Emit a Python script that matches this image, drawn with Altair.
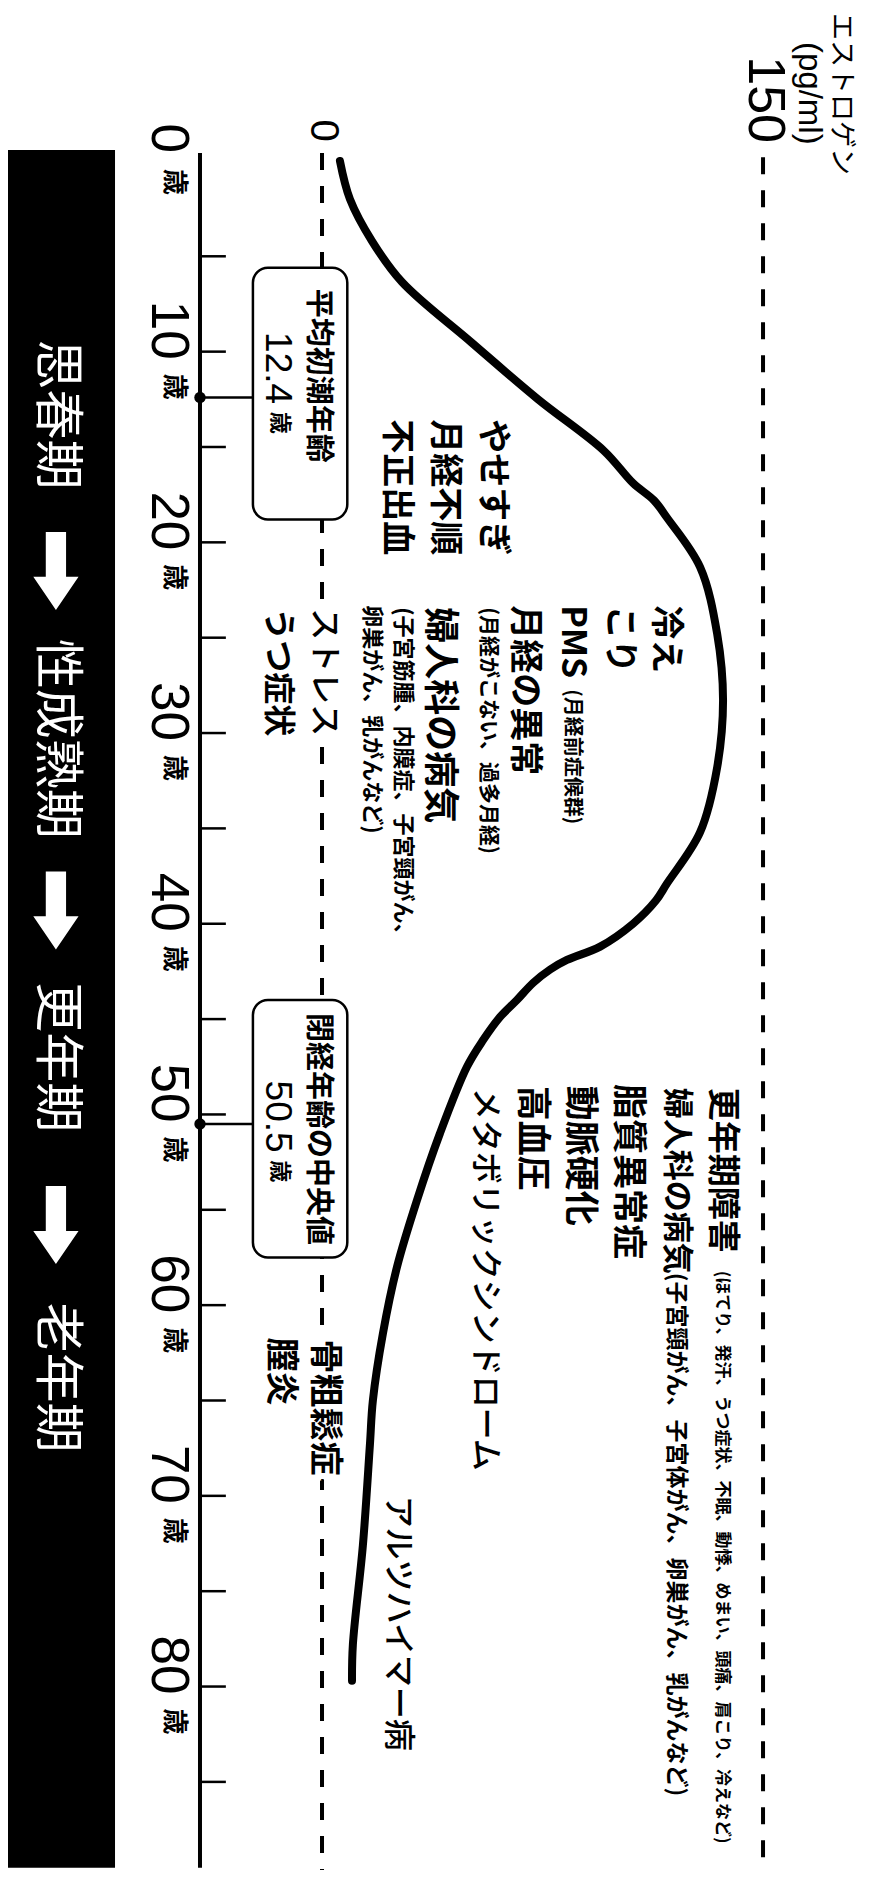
import altair as alt
import pandas as pd

# ---------------- data ----------------
# estrogen curve (age in years, estrogen pg/ml)
curve_age = [0.0, 2.0, 4.2, 6.35, 9.5, 12.5, 15.2, 16.9, 17.8, 18.7, 21.3, 24.8, 28.3,
             31.8, 35.2, 37.9, 38.8, 40.0, 41.2, 41.9, 42.4, 43.1, 44.0, 44.9, 46.1,
             47.5, 51.0, 54.5, 58.0, 61.5, 65.0, 67.3, 72.6, 77.8, 79.7]
curve_e = [6.1, 9.5, 17.0, 27.2, 50.7, 73.5, 95.9, 105.8, 112.9, 117.3, 128.6, 134.4, 136.4,
           134.4, 128.6, 117.3, 113.5, 105.8, 94.6, 83.3, 77.6, 71.8, 66.3, 60.5, 54.8,
           49.3, 40.1, 32.3, 25.5, 20.7, 17.3, 16.3, 13.9, 10.5, 10.2]

tick_ages = list(range(5, 90, 5))
label_ages = list(range(0, 90, 10))

milestone_ages = [12.4, 50.5]
milestone_titles = ["平均初潮年齢", "閉経年齢の中央値"]
milestone_values = ["12.4", "50.5"]

periods = ["思春期", "性成熟期", "更年期", "老年期"]
period_centers = [13.3, 30.3, 47.0, 63.8]
arrow_ages = [21.5, 39.3, 55.8]

# annotation texts: (text, estrogen level, starting age, font size)
bold_texts = [
    ("やせすぎ", 57.8, 13.55, 34), ("月経不順", 41.5, 13.55, 34), ("不正出血", 25.2, 13.55, 34),
    ("冷え", 116.7, 23.3, 34), ("こり", 101.0, 23.3, 34), ("PMS", 85.0, 23.3, 34),
    ("(月経前症候群)", 85.0, 27.7, 20), ("月経の異常", 68.7, 23.3, 34),
    ("(月経がこない、過多月経)", 56.5, 23.4, 21), ("婦人科の病気", 39.8, 23.4, 36),
    ("(子宮筋腫、内膜症、子宮頸がん、", 27.6, 23.4, 22), ("卵巣がん、乳がんなど)", 17.0, 23.3, 22),
    ("うつ症状", -15.0, 23.45, 32),
    ("更年期障害", 136.1, 48.6, 33),
    ("(ほてり、発汗、うつ症状、不眠、動悸、めまい、頭痛、肩こり、冷えなど)", 136.1, 58.2, 17),
    ("婦人科の病気", 120.4, 48.6, 31),
    ("(子宮頸がん、子宮体がん、卵巣がん、乳がんなど)", 120.4, 58.3, 23),
    ("脂質異常症", 104.1, 48.4, 35), ("動脈硬化", 87.8, 48.5, 35), ("高血圧", 71.4, 48.5, 35),
    ("膣炎", -14.3, 61.7, 34),
]
halo_bold_texts = [("骨粗鬆症", 0.7, 61.8, 34)]
normal_texts = [("メタボリックシンドローム", 55.4, 48.6, 32), ("アルツハイマー病", 25.9, 70.0, 32)]
halo_normal_texts = [("ストレス", 0.7, 23.45, 32)]

# ---------------- scales ----------------
XD = [-106.8, 184.0]
YD = [-8.02, 89.62]
JP = "Noto Sans CJK JP"
LAT = "Liberation Sans, Arial, sans-serif"
AX_E = -41.5   # estrogen coordinate of the age axis
BOX_E = [-23.5, 8.6]


def X(f):
    return alt.X(f, type="quantitative", scale=alt.Scale(domain=XD, nice=False, zero=False), axis=None)


def Y(f):
    return alt.Y(f, type="quantitative", scale=alt.Scale(domain=YD, reverse=True, nice=False, zero=False), axis=None)


layers = []

# black period band
band = pd.DataFrame({"e0": [XD[0]], "e1": [-70.4], "a0": [-0.58], "a1": [89.5]})
layers.append(alt.Chart(band).mark_rect(color="black").encode(
    x=X("e0"), x2="e1", y=Y("a0"), y2="a1"))

pdf = pd.DataFrame({"t": periods, "age": period_centers, "e": [-90.5] * 4})
layers.append(alt.Chart(pdf).mark_text(angle=90, align="center", baseline="middle", color="white",
                                        font=JP, fontSize=50, fontWeight=400).encode(
    x=X("e"), y=Y("age"), text="t"))

adf = pd.DataFrame({"age": arrow_ages, "e": [-90.5] * 3})
arrow_path = "M-0.26,-1L0.26,-1L0.26,0.15L0.58,0.15L0,1L-0.58,0.15L-0.26,0.15Z"
layers.append(alt.Chart(adf).mark_point(shape=arrow_path, size=6084, filled=True, color="white",
                                         opacity=1, strokeWidth=0).encode(x=X("e"), y=Y("age")))

# dashed estrogen reference lines
ddf = pd.DataFrame({"e": [0, 150], "a0": [-0.42, -0.2], "a1": [89.62, 89.62]})
layers.append(alt.Chart(ddf).mark_rule(color="black", strokeWidth=4, strokeDash=[17, 16]).encode(
    x=X("e"), y=Y("a0"), y2="a1"))

# age axis
axdf = pd.DataFrame({"e": [AX_E], "a0": [-0.42], "a1": [89.5]})
layers.append(alt.Chart(axdf).mark_rule(color="black", strokeWidth=4).encode(
    x=X("e"), y=Y("a0"), y2="a1"))
tdf = pd.DataFrame({"age": tick_ages, "e0": [AX_E] * len(tick_ages), "e1": [-32.7] * len(tick_ages)})
layers.append(alt.Chart(tdf).mark_rule(color="black", strokeWidth=2.5).encode(
    x=X("e0"), x2="e1", y=Y("age")))

ldf = pd.DataFrame({"age": label_ages, "t": [str(a) for a in label_ages],
                    "e": [-52.4] * len(label_ages), "eu": [-50.3] * len(label_ages),
                    "u": ["歳"] * len(label_ages)})
ld0 = ldf[ldf["age"] == 0]
ld2 = ldf[ldf["age"] > 0]
layers.append(alt.Chart(ld2).mark_text(angle=90, align="right", baseline="middle", dx=8,
                                        font=LAT, fontSize=53, color="black").encode(
    x=X("e"), y=Y("age"), text="t"))
layers.append(alt.Chart(ld0).mark_text(angle=90, align="right", baseline="middle", dx=-8,
                                        font=LAT, fontSize=53, color="black").encode(
    x=X("e"), y=Y("age"), text="t"))
layers.append(alt.Chart(ld2).mark_text(angle=90, align="left", baseline="middle", dx=22,
                                        font=JP, fontSize=26, fontWeight="bold", color="black").encode(
    x=X("eu"), y=Y("age"), text="u"))
layers.append(alt.Chart(ld0).mark_text(angle=90, align="left", baseline="middle", dx=8,
                                        font=JP, fontSize=26, fontWeight="bold", color="black").encode(
    x=X("eu"), y=Y("age"), text="u"))

# milestone connectors, dots, boxes
mdf = pd.DataFrame({"age": milestone_ages, "e0": [AX_E] * 2, "e1": [BOX_E[0]] * 2,
                    "b0": [5.6, 44.0], "b1": [18.8, 57.5],
                    "title": milestone_titles, "val": milestone_values,
                    "tage": [11.27, 50.76], "vage": [12.75, 52.0], "uage": [13.15, 52.4]})
layers.append(alt.Chart(mdf).mark_rule(color="black", strokeWidth=2.5).encode(
    x=X("e0"), x2="e1", y=Y("age")))
layers.append(alt.Chart(mdf).mark_point(filled=True, color="black", size=130, opacity=1).encode(
    x=X("e0"), y=Y("age")))
bdf = mdf.assign(bx0=BOX_E[0], bx1=BOX_E[1])
layers.append(alt.Chart(bdf).mark_rect(fill="white", stroke="black", strokeWidth=2.5, cornerRadius=15).encode(
    x=X("bx0"), x2="bx1", y=Y("b0"), y2="b1"))
layers.append(alt.Chart(mdf.assign(e=-1.4)).mark_text(angle=90, align="center", baseline="middle",
                                                       font=JP, fontSize=29, fontWeight="bold", color="black").encode(
    x=X("e"), y=Y("tage"), text="title"))
layers.append(alt.Chart(mdf.assign(e=-15.3)).mark_text(angle=90, align="right", baseline="middle",
                                                        font=LAT, fontSize=37, color="black").encode(
    x=X("e"), y=Y("vage"), text="val"))
layers.append(alt.Chart(mdf.assign(e=-14.3, u="歳")).mark_text(angle=90, align="left", baseline="middle",
                                                                font=JP, fontSize=22, fontWeight="bold", color="black").encode(
    x=X("e"), y=Y("uage"), text="u"))

# estrogen curve
cdf = pd.DataFrame({"age": curve_age, "e": curve_e})
layers.append(alt.Chart(cdf).mark_line(color="black", strokeWidth=8, interpolate="catmull-rom",
                                        strokeCap="round").encode(
    x=X("e"), y=Y("age"), order=alt.Order("age:Q")))


def text_layer(rows, weight, halo=False):
    d = pd.DataFrame(rows, columns=["t", "e", "age", "fs"])
    out = []
    if halo:
        out.append(alt.Chart(d).mark_text(angle=90, align="left", baseline="middle", font=JP,
                                          fontWeight=weight, color="white", stroke="white",
                                          strokeWidth=12).encode(
            x=X("e"), y=Y("age"), text="t", size=alt.Size("fs:Q", scale=None)))
    out.append(alt.Chart(d).mark_text(angle=90, align="left", baseline="middle", font=JP,
                                      fontWeight=weight, color="black").encode(
        x=X("e"), y=Y("age"), text="t", size=alt.Size("fs:Q", scale=None)))
    return out


layers += text_layer(bold_texts, "bold")
layers += text_layer(halo_bold_texts, "bold", halo=True)
layers += text_layer(normal_texts, 500)
layers += text_layer(halo_normal_texts, 500, halo=True)

# estrogen axis title & labels
top = pd.DataFrame({"t": ["エストロゲン"], "e": [176.6], "age": [-7.76]})
layers.append(alt.Chart(top).mark_text(angle=90, align="left", baseline="middle", font=JP,
                                        fontSize=27, color="black").encode(x=X("e"), y=Y("age"), text="t"))
unit = pd.DataFrame({"t": ["(pg/ml)"], "e": [165.5], "age": [-6.24]})
layers.append(alt.Chart(unit).mark_text(angle=90, align="left", baseline="middle", font=LAT,
                                         fontSize=33, color="black").encode(x=X("e"), y=Y("age"), text="t"))
elab = pd.DataFrame({"t": ["150", "0"], "e": [150.7, 0.3], "age": [-0.94, -1.0], "fs": [52, 40]})
layers.append(alt.Chart(elab).mark_text(angle=90, align="right", baseline="middle", font=LAT,
                                         color="black").encode(
    x=X("e"), y=Y("age"), text="t", size=alt.Size("fs:Q", scale=None)))

chart = alt.layer(*layers).properties(
    width=855, height=1862, padding=0,
    autosize=alt.AutoSizeParams(type="none"),
).configure_view(stroke=None)

chart.save("out.html", embed_options={"renderer": "svg", "actions": False})
